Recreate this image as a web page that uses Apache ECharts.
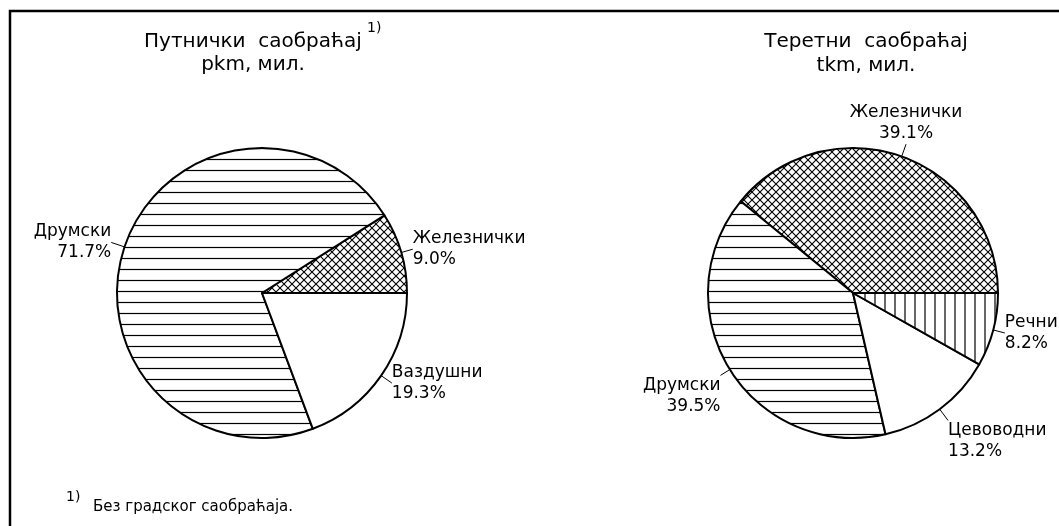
<!DOCTYPE html>
<html>
<head>
<meta charset="utf-8">
<script src="https://cdn.jsdelivr.net/npm/echarts@6/dist/echarts.min.js"></script>
<style>
html, body { margin: 0; padding: 0; background: #fff; }
#chart { width: 1059px; height: 526px; }
</style>
</head>
<body>
<div id="chart"></div>
<script>
// путнички саобраћај (pkm), удео у %
var passengerNames = ['Железнички', 'Друмски', 'Ваздушни'];
var passengerShares = [9.0, 71.7, 19.3];
// теретни саобраћај (tkm), удео у %
var freightNames = ['Железнички', 'Друмски', 'Цевоводни', 'Речни'];
var freightShares = [39.1, 39.5, 13.2, 8.2];

var FONT = '"DejaVu Sans", Verdana, sans-serif';

// шрафуре
function makeTile(w, h, draw) {
    var c = document.createElement('canvas');
    c.width = w; c.height = h;
    var ctx = c.getContext('2d');
    ctx.fillStyle = '#fff';
    ctx.fillRect(0, 0, w, h);
    ctx.strokeStyle = '#000';
    ctx.lineWidth = 1.2;
    draw(ctx);
    return c;
}
var hatchH = makeTile(22, 11, function (ctx) {
    ctx.beginPath(); ctx.moveTo(0, 5.5); ctx.lineTo(22, 5.5); ctx.stroke();
});
var hatchV = makeTile(10, 22, function (ctx) {
    ctx.beginPath(); ctx.moveTo(5, 0); ctx.lineTo(5, 22); ctx.stroke();
});
var hatchX = makeTile(8, 8, function (ctx) {
    ctx.lineWidth = 1.1;
    ctx.beginPath();
    ctx.moveTo(-1, -1); ctx.lineTo(9, 9);
    ctx.moveTo(9, -1); ctx.lineTo(-1, 9);
    ctx.stroke();
});

var fills = {
    'Железнички': {image: hatchX, repeat: 'repeat'},
    'Друмски': {image: hatchH, repeat: 'repeat'},
    'Речни': {image: hatchV, repeat: 'repeat'},
    'Ваздушни': '#fff',
    'Цевоводни': '#fff'
};

// дужине линија до натписа и вертикално поравнање натписа
var passengerLineLen = [12, 14, 13];
var freightLineLen = [13, 11, 14, 12];
var freightLabelPos = [
    {align: 'center', verticalAlign: 'bottom'},
    {verticalAlign: 'top'},
    {verticalAlign: 'top'},
    {}
];

function buildData(names, values, lens) {
    var out = [];
    for (var i = 0; i < names.length; i++) {
        out.push({
            name: names[i],
            value: values[i],
            itemStyle: {color: fills[names[i]]},
            labelLine: {length: lens[i], length2: 0}
        });
    }
    return out;
}

function pieSeries(center, data) {
    return {
        type: 'pie',
        center: center,
        radius: 145,
        startAngle: 0,
        clockwise: false,
        avoidLabelOverlap: false,
        silent: true,
        animation: false,
        itemStyle: {borderColor: '#000', borderWidth: 2},
        label: {
            show: true,
            color: '#000',
            fontFamily: FONT,
            fontSize: 17,
            lineHeight: 21,
            distanceToLabelLine: 0,
            formatter: function (p) {
                return p.name + '\n' + p.value.toFixed(1) + '%';
            }
        },
        labelLine: {show: true, lineStyle: {color: '#000', width: 1}},
        emphasis: {disabled: true},
        data: data
    };
}

var chart = echarts.init(document.getElementById('chart'));

var leftPie = pieSeries([262, 293], buildData(passengerNames, passengerShares, passengerLineLen));
var rightPie = pieSeries([853, 293], buildData(freightNames, freightShares, freightLineLen));
rightPie.labelLayout = function (params) {
    return freightLabelPos[params.dataIndex];
};

var option = {
    backgroundColor: '#fff',
    series: [leftPie, rightPie],
    graphic: [
        {
            type: 'rect', silent: true,
            shape: {x: 10, y: 11, width: 1100, height: 600},
            style: {fill: null, stroke: '#000', lineWidth: 2.5}
        },
        {
            type: 'text', x: 253, y: 30,
            style: {
                text: 'Путнички  саобраћај\npkm, мил.', fill: '#000',
                font: '20px ' + FONT, textAlign: 'center', lineHeight: 23
            }
        },
        {
            type: 'text', x: 367, y: 21,
            style: {text: '1)', fill: '#000', font: '14px ' + FONT}
        },
        {
            type: 'text', x: 866, y: 30,
            style: {
                text: 'Теретни  саобраћај\ntkm, мил.', fill: '#000',
                font: '20px ' + FONT, textAlign: 'center', lineHeight: 24
            }
        },
        {
            type: 'text', x: 66, y: 490,
            style: {text: '1)', fill: '#000', font: '14px ' + FONT}
        },
        {
            type: 'text', x: 93, y: 500,
            style: {text: 'Без градског саобраћаја.', fill: '#000', font: '15px ' + FONT}
        }
    ]
};
chart.setOption(option);
</script>
</body>
</html>
